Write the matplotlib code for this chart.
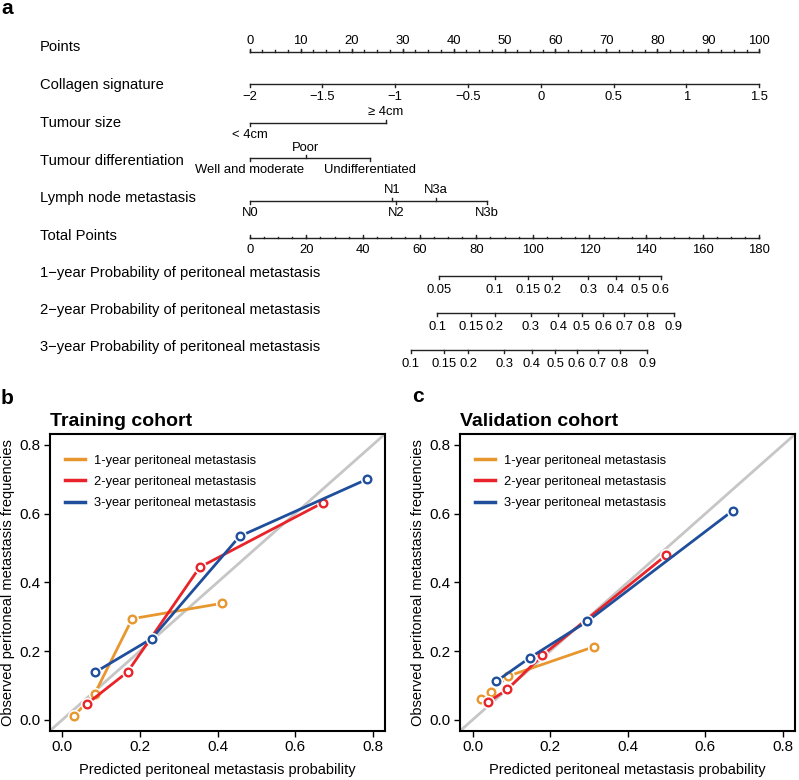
import numpy as np
import matplotlib.pyplot as plt
import matplotlib.transforms as mtransforms
from matplotlib.lines import Line2D

plt.rcParams['font.family'] = ['Liberation Sans', 'DejaVu Sans']

# ---- nomogram data (a) ----
points_ticks = np.arange(0, 101, 10)
points_minor = np.arange(0, 100.1, 2.5)
collagen_ticks = [-2, -1.5, -1, -0.5, 0, 0.5, 1, 1.5]
collagen_labels = ['\u22122', '\u22121.5', '\u22121', '\u22120.5', '0', '0.5', '1', '1.5']
size_labels = ['< 4cm', '\u2265 4cm']
size_points = [0, 26.7]
diff_labels = ['Well and moderate', 'Poor', 'Undifferentiated']
diff_points = [0, 11.0, 23.7]
ln_labels = ['N0', 'N1', 'N2', 'N3a', 'N3b']
ln_points = [0, 27.9, 28.7, 36.6, 46.5]
total_ticks = np.arange(0, 181, 20)
total_minor = np.arange(0, 180.1, 5)
prob_ticks_1y = [0.05, 0.1, 0.15, 0.2, 0.3, 0.4, 0.5, 0.6]
prob_labels_1y = ['0.05', '0.1', '0.15', '0.2', '0.3', '0.4', '0.5', '0.6']
prob_ticks_23y = [0.1, 0.15, 0.2, 0.3, 0.4, 0.5, 0.6, 0.7, 0.8, 0.9]
prob_labels_23y = ['0.1', '0.15', '0.2', '0.3', '0.4', '0.5', '0.6', '0.7', '0.8', '0.9']
lp_slope = 0.0369
lp_offset = [-5.442, -4.696, -4.349]

# ---- calibration data (b, c) ----
train_pred_1y = [0.030, 0.083, 0.180, 0.412]
train_obs_1y = [0.011, 0.075, 0.294, 0.339]
train_pred_2y = [0.063, 0.168, 0.354, 0.672]
train_obs_2y = [0.046, 0.139, 0.444, 0.632]
train_pred_3y = [0.084, 0.230, 0.457, 0.785]
train_obs_3y = [0.138, 0.236, 0.534, 0.700]

valid_pred_1y = [0.021, 0.046, 0.092, 0.314]
valid_obs_1y = [0.060, 0.081, 0.127, 0.213]
valid_pred_2y = [0.040, 0.089, 0.179, 0.499]
valid_obs_2y = [0.052, 0.088, 0.187, 0.479]
valid_pred_3y = [0.061, 0.148, 0.295, 0.671]
valid_obs_3y = [0.112, 0.181, 0.286, 0.609]

legend_labels = ['1-year peritoneal metastasis', '2-year peritoneal metastasis',
                 '3-year peritoneal metastasis']
colors = ['#E8962E', '#E8242A', '#1F4E9C']

W, H = 799, 780
fig = plt.figure(figsize=(W / 100, H / 100), dpi=100)

# nomogram axes: x in "points" units, y in pixels from top of figure
x0, x1 = 249.7, 759.3
nax = fig.add_axes([x0 / W, 1 - 380 / H, (x1 - x0) / W, 380 / H])
nax.set_xlim(0, 100)
nax.set_ylim(380, 0)
nax.axis('off')

row_y = [51.7, 84, 122.7, 158.3, 200.7, 238.3, 275.7, 312.7, 349.7]
label_y = [46.7, 85, 122.7, 160.7, 198, 236, 273, 310, 347]
row_names = ['Points', 'Collagen signature', 'Tumour size', 'Tumour differentiation',
             'Lymph node metastasis', 'Total Points',
             '1\u2212year Probability of peritoneal metastasis',
             '2\u2212year Probability of peritoneal metastasis',
             '3\u2212year Probability of peritoneal metastasis']
lc = '#222222'
fs_tick = 9.4
lab_tr = mtransforms.blended_transform_factory(fig.transFigure, nax.transData)
for name, y in zip(row_names, label_y):
    nax.text(40 / W, y, name, transform=lab_tr, fontsize=10.6, va='center', ha='left')


def hline(y, a, b):
    nax.plot([a, b], [y, y], color=lc, lw=1, clip_on=False)


def tick(y, x, length):
    nax.plot([x, x], [y, y + length], color=lc, lw=1, clip_on=False)


# Points
y = row_y[0]
hline(y, 0, 100)
for m in points_minor:
    tick(y, m, -1.5)
for t in points_ticks:
    tick(y, t, -3)
    nax.text(t, y - 11, str(t), fontsize=fs_tick, ha='center', va='center')

# Collagen signature
y = row_y[1]
coll = [(v + 2) / 3.5 * 100 for v in collagen_ticks]
hline(y, coll[0], coll[-1])
for p, lab in zip(coll, collagen_labels):
    tick(y, p, 3)
    nax.text(p, y + 12.7, lab, fontsize=fs_tick, ha='center', va='center')

# categorical rows
cat_rows = [(row_y[2], size_points, size_labels, [1, -1]),
            (row_y[3], diff_points, diff_labels, [1, -1, 1]),
            (row_y[4], ln_points, ln_labels, [1, -1, 1, -1, 1])]
for y, pts, labs, sides in cat_rows:
    hline(y, min(pts), max(pts))
    for p, lab, s in zip(pts, labs, sides):
        tick(y, p, 3 * s)
        nax.text(p, y + (12 if s > 0 else -10.5), lab, fontsize=fs_tick,
                 ha='center', va='center')

# Total points
y = row_y[5]
tp = 100 / 180
hline(y, 0, 100)
for m in total_minor:
    tick(y, m * tp, -1.5)
for t in total_ticks:
    tick(y, t * tp, -3)
    nax.text(t * tp, y + 11.7, str(t), fontsize=fs_tick, ha='center', va='center')

# probability rows
prob_rows = [(prob_ticks_1y, prob_labels_1y), (prob_ticks_23y, prob_labels_23y),
             (prob_ticks_23y, prob_labels_23y)]
for i, (pt, pl) in enumerate(prob_rows):
    y = row_y[6 + i]
    pts = [(np.log(-np.log(1 - p)) - lp_offset[i]) / lp_slope * tp for p in pt]
    hline(y, pts[0], pts[-1])
    for p, lab in zip(pts, pl):
        tick(y, p, 3)
        nax.text(p, y + 14.5, lab, fontsize=fs_tick, ha='center', va='center')


# ---- calibration panels ----
AW, AH = 335, 296.7


def calib(rect, series, title):
    ax = fig.add_axes(rect)
    ax.plot([-0.1, 1], [-0.1, 1], color='#C6C6C6', lw=2, zorder=1)
    for k, (px, py) in enumerate(series):
        z = 2 + 3 * k
        ax.plot(px, py, color=colors[k], lw=2, zorder=z)
        ax.plot(px, py, ls='none', marker='o', ms=8.5, mfc='white', mec='white', zorder=z + 1)
        ax.plot(px, py, ls='none', marker='o', ms=5.5, mfc='white', mec=colors[k],
                mew=1.7, zorder=z + 2)
    ax.set_xlim(-0.032, 0.832)
    ax.set_ylim(-0.032, 0.832)
    ticks = [0.0, 0.2, 0.4, 0.6, 0.8]
    ax.set_xticks(ticks)
    ax.set_yticks(ticks)
    ax.set_xticklabels(['%.1f' % t for t in ticks])
    ax.set_yticklabels(['%.1f' % t for t in ticks])
    ax.tick_params(direction='out', length=4.5, width=1, labelsize=11, pad=2.5)
    for s in ax.spines.values():
        s.set_linewidth(1.5)
    ax.set_xlabel('Predicted peritoneal metastasis probability', fontsize=10.5, labelpad=6)
    ax.set_ylabel('Observed peritoneal metastasis frequencies', fontsize=10.5, labelpad=3)
    ax.set_title(title, loc='left', fontsize=14, fontweight='bold', pad=6)
    handles = [Line2D([], [], color=c, lw=2.5) for c in colors]
    ax.legend(handles, legend_labels, frameon=False, loc='upper left', fontsize=9.3,
              handlelength=1.55, handletextpad=0.7, labelspacing=0.72,
              bbox_to_anchor=(3 / AW, 1 - 9 / AH), borderaxespad=0.6, borderpad=0.3)
    return ax


calib([50 / W, 1 - 730.7 / H, AW / W, AH / H],
      [(train_pred_1y, train_obs_1y), (train_pred_2y, train_obs_2y),
       (train_pred_3y, train_obs_3y)], 'Training cohort')
calib([460.3 / W, 1 - 730.7 / H, AW / W, AH / H],
      [(valid_pred_1y, valid_obs_1y), (valid_pred_2y, valid_obs_2y),
       (valid_pred_3y, valid_obs_3y)], 'Validation cohort')

fig.text(1 / W, 1 - 9 / H, 'a', fontsize=15, fontweight='bold', va='center')
fig.text(1 / W, 1 - 399 / H, 'b', fontsize=15, fontweight='bold', va='center')
fig.text(412 / W, 1 - 397 / H, 'c', fontsize=15, fontweight='bold', va='center')

fig.savefig('out.png', dpi=100)
